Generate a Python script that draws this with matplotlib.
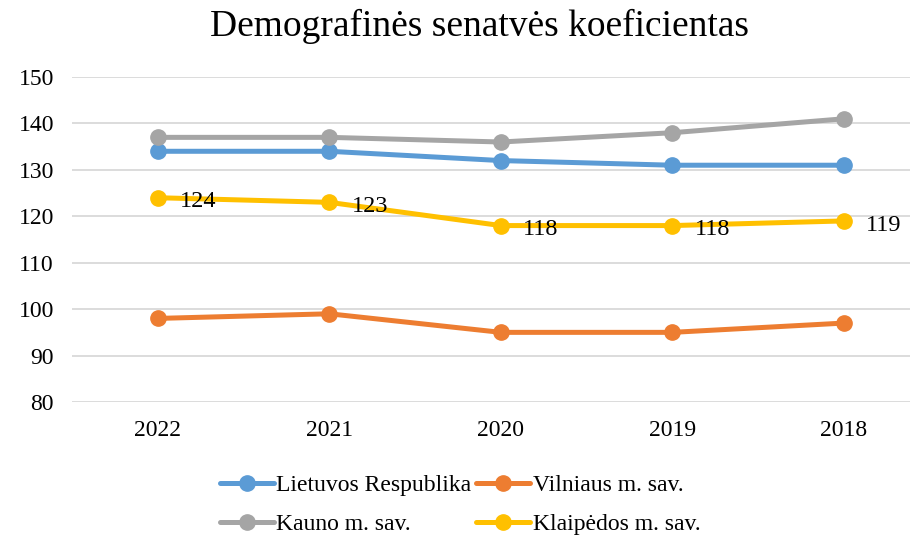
import matplotlib

matplotlib.use("Agg")
import matplotlib.pyplot as plt

plt.rcParams["font.family"] = ["Liberation Serif", "DejaVu Serif"]

years = ["2022", "2021", "2020", "2019", "2018"]
lietuva = [134, 134, 132, 131, 131]
vilnius = [98, 99, 95, 95, 97]
kaunas = [137, 137, 136, 138, 141]
klaipeda = [124, 123, 118, 118, 119]

series = [
    ("Lietuvos Respublika", lietuva, "#5B9BD5"),
    ("Vilniaus m. sav.", vilnius, "#ED7D31"),
    ("Kauno m. sav.", kaunas, "#A5A5A5"),
    ("Klaipėdos m. sav.", klaipeda, "#FFC000"),
]

fig = plt.figure(figsize=(9.10, 5.37), dpi=100)
ax = fig.add_axes([72 / 910, 1 - 402 / 537, (910 - 72) / 910, (402 - 77) / 537])

x = list(range(len(years)))
handles = {}
for name, vals, col in series:
    (ln,) = ax.plot(x, vals, color=col, lw=3.6, marker="o", ms=11,
                    solid_capstyle="round", label=name, zorder=3)
    handles[name] = ln

# data labels only on the Klaipeda series
for xi, v in zip(x, klaipeda):
    ax.annotate(f"{v}", (xi, v), xytext=(16, -3), textcoords="offset points",
                ha="left", va="center", fontsize=17.5, color="black", zorder=4)

ax.set_xlim(-0.5, 4.385)
ax.set_ylim(80, 150)
ax.set_yticks(range(80, 151, 10))
ax.set_xticks(x)
ax.set_xticklabels(years)
ax.tick_params(axis="both", length=0, labelsize=17, colors="black")
ax.tick_params(axis="x", pad=13)
ax.tick_params(axis="y", pad=13)
ax.grid(axis="y", color="#D9D9D9", lw=1.3)
ax.set_axisbelow(True)
for s in ax.spines.values():
    s.set_visible(False)

fig.text(479 / 910, 1 - 26 / 537, "Demografinės senatvės koeficientas",
         ha="center", va="center", fontsize=27)

order = ["Lietuvos Respublika", "Kauno m. sav.", "Vilniaus m. sav.", "Klaipėdos m. sav."]
fig.legend([handles[n] for n in order], order, ncol=2, loc="center",
           bbox_to_anchor=(460 / 910, 1 - 505 / 537), frameon=False, fontsize=17,
           handlelength=2.3, handletextpad=0.1, columnspacing=0.2,
           labelspacing=0.75)

fig.savefig("out.png", dpi=100)
